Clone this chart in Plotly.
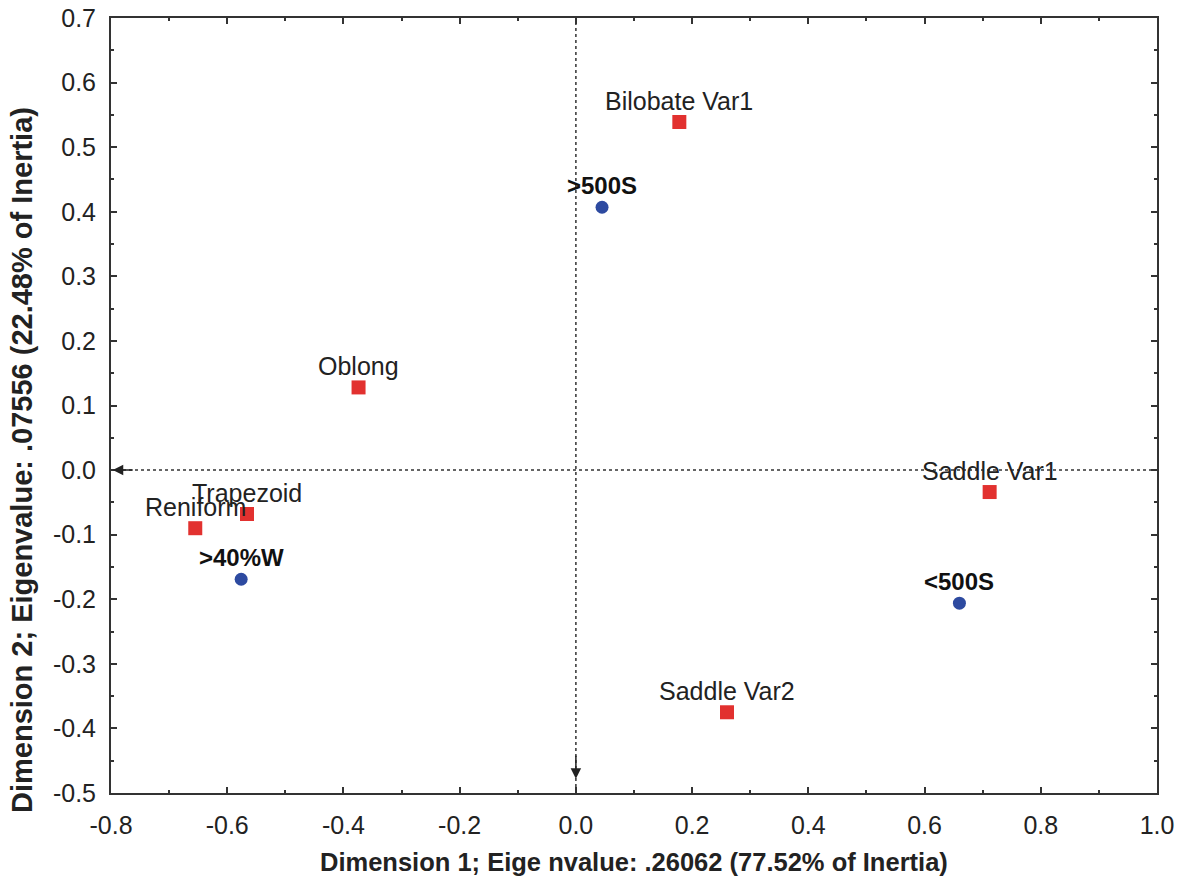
import plotly.graph_objects as go

shape_names = ["Bilobate Var1", "Oblong", "Saddle Var1", "Reniform", "Trapezoid", "Saddle Var2"]
shape_x = [0.178, -0.374, 0.712, -0.655, -0.566, 0.260]
shape_y = [0.539, 0.128, -0.034, -0.090, -0.068, -0.375]

group_names = [">500S", ">40%W", "<500S"]
group_x = [0.045, -0.576, 0.660]
group_y = [0.407, -0.169, -0.206]

x_range = [-0.8, 1.0]
y_range = [-0.5, 0.7]
x_tickvals = [-0.8, -0.6, -0.4, -0.2, 0.0, 0.2, 0.4, 0.6, 0.8, 1.0]
x_ticktext = ["-0.8", "-0.6", "-0.4", "-0.2", "0.0", "0.2", "0.4", "0.6", "0.8", "1.0"]
y_tickvals = [-0.5, -0.4, -0.3, -0.2, -0.1, 0.0, 0.1, 0.2, 0.3, 0.4, 0.5, 0.6, 0.7]
y_ticktext = ["-0.5", "-0.4", "-0.3", "-0.2", "-0.1", "0.0", "0.1", "0.2", "0.3", "0.4", "0.5", "0.6", "0.7"]
x_title = "Dimension 1; Eige nvalue: .26062 (77.52% of Inertia)"
y_title = "Dimension 2; Eigenvalue: .07556 (22.48% of Inertia)"

FONT = "Liberation Sans, Arial, sans-serif"

fig = go.Figure()

fig.add_trace(go.Scatter(
    x=shape_x, y=shape_y, mode="markers",
    marker=dict(symbol="square", size=14, color="#e2312f"),
    showlegend=False, cliponaxis=False, name="shapes",
))
fig.add_trace(go.Scatter(
    x=group_x, y=group_y, mode="markers",
    marker=dict(symbol="circle", size=13, color="#2d4aa0"),
    showlegend=False, cliponaxis=False, name="groups",
))

for n, x, y in zip(shape_names, shape_x, shape_y):
    fig.add_annotation(x=x, y=y, text=n, showarrow=False, yshift=21,
                       xanchor="center", yanchor="middle",
                       font=dict(family=FONT, size=25, color="#222"))
for n, x, y in zip(group_names, group_x, group_y):
    fig.add_annotation(x=x, y=y, text="<b>%s</b>" % n, showarrow=False, yshift=22,
                       xanchor="center", yanchor="middle",
                       font=dict(family=FONT, size=24, color="#111"))

# dotted reference lines
fig.add_shape(type="line", x0=x_range[0], x1=x_range[1], y0=0, y1=0,
              line=dict(color="#333", width=1.5, dash="dot"), layer="below")
fig.add_shape(type="line", x0=0, x1=0, y0=y_range[0], y1=y_range[1],
              line=dict(color="#333", width=1.5, dash="dot"), layer="below")

# arrow heads
fig.add_annotation(x=x_range[0] + 0.003, y=0, ax=x_range[0] + 0.04, ay=0, xref="x", yref="y",
                   axref="x", ayref="y", showarrow=True, arrowhead=2, arrowsize=1.4,
                   arrowwidth=1.5, arrowcolor="#222", text="")
fig.add_annotation(x=0, y=-0.478, ax=0, ay=-0.44, xref="x", yref="y",
                   axref="x", ayref="y", showarrow=True, arrowhead=2, arrowsize=1.4,
                   arrowwidth=1.5, arrowcolor="#222", text="")

# axis titles
fig.add_annotation(xref="paper", yref="paper", x=0.5, y=-(862 - 793) / 775,
                   text="<b>%s</b>" % x_title, showarrow=False,
                   xanchor="center", yanchor="middle",
                   font=dict(family=FONT, size=25.5, color="#222"))
fig.add_annotation(xref="paper", yref="paper", x=(22 - 111) / 1046, y=(793 - 460) / 775,
                   text="<b>%s</b>" % y_title, showarrow=False, textangle=-90,
                   xanchor="center", yanchor="middle",
                   font=dict(family=FONT, size=29, color="#222"))

axis_common = dict(
    showgrid=False, zeroline=False, showline=True, linecolor="#333", linewidth=2,
    mirror="ticks", ticks="inside", ticklen=6, tickwidth=1.5, tickcolor="#333",
    tickfont=dict(family=FONT, size=25, color="#222"), automargin=False,
)

fig.update_xaxes(range=x_range, tickmode="array", tickvals=x_tickvals, ticktext=x_ticktext,
                 ticklabelstandoff=9,
                 minor=dict(ticks="inside", dtick=0.1, ticklen=3, tickcolor="#333"),
                 **axis_common)
fig.update_yaxes(range=y_range, tickmode="array", tickvals=y_tickvals, ticktext=y_ticktext,
                 ticklabelstandoff=8,
                 minor=dict(ticks="inside", dtick=0.05, ticklen=3, tickcolor="#333"),
                 **axis_common)

fig.update_layout(
    width=1188, height=883,
    margin=dict(l=111, r=31, t=18, b=90),
    plot_bgcolor="white", paper_bgcolor="white",
    font=dict(family=FONT),
)

fig.write_html("out.html")
